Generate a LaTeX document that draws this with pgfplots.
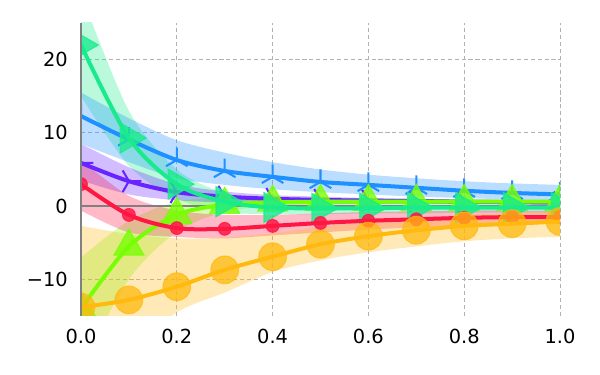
\documentclass[border=0pt]{standalone}
\usepackage{pgfplots}
\pgfplotsset{compat=1.18}
\usepgfplotslibrary{fillbetween}
\usetikzlibrary{plotmarks}
\usepackage{fontspec}
\setmainfont{DejaVu Sans}

\definecolor{cblue}{RGB}{30,144,255}
\definecolor{cpurple}{RGB}{104,36,255}
\definecolor{cred}{RGB}{255,23,68}
\definecolor{cteal}{RGB}{25,235,140}
\definecolor{cgreen}{RGB}{118,255,3}
\definecolor{camber}{RGB}{255,185,15}

% x, then for each series: mean, upper, lower
\pgfplotstableread{
x   blue bu   bl  purple pu  pl   red  ru   rl   teal tu  tl   green gu   gl   amber au   al
0.0 12.3 15.5 8.5 5.9  8.5  3.5  3.0  6.3  -0.6 22.0 29  15   -14.0 -7   -22  -13.8 -2.7 -25
0.1 9.1  12.0 6.0 3.4  5.3  1.6  -1.2 1.4  -3.6 9.3  13  5.5  -5.5  -2.0 -10  -12.8 -3.8 -20
0.2 6.3  9.0  3.8 1.9  3.0  0.8  -3.0 -0.6 -4.2 3.0  5.0 1.0  -1.2  0.6  -3.5 -11.0 -4.4 -14.5
0.3 4.8  7.3  2.9 1.3  2.0  0.5  -3.1 -1.2 -4.4 0.6  1.8 -0.8 0.2   1.1  -0.8 -8.7  -4.3 -11.8
0.4 4.0  6.0  2.3 1.0  1.5  0.4  -2.7 -1.2 -4.0 -0.2 0.7 -1.1 0.5   1.1  0.0  -6.9  -3.7 -9.0
0.5 3.3  5.0  1.9 0.85 1.3  0.3  -2.3 -1.0 -3.6 -0.3 0.5 -1.1 0.6   1.0  0.2  -5.2  -2.8 -7.4
0.6 2.9  4.3  1.6 0.75 1.1  0.3  -2.0 -0.8 -3.2 -0.3 0.5 -1.0 0.6   1.0  0.3  -4.1  -2.1 -6.3
0.7 2.5  3.8  1.3 0.7  1.0  0.3  -1.8 -0.7 -2.9 -0.2 0.5 -1.0 0.6   1.0  0.3  -3.3  -1.6 -5.5
0.8 2.1  3.4  1.1 0.6  0.9  0.3  -1.6 -0.6 -2.7 -0.2 0.5 -0.9 0.6   0.9  0.3  -2.7  -1.2 -4.8
0.9 1.8  3.1  0.9 0.55 0.85 0.25 -1.5 -0.6 -2.5 -0.2 0.5 -0.9 0.6   0.9  0.3  -2.4  -1.0 -4.4
1.0 1.6  2.9  0.8 0.5  0.8  0.2  -1.5 -0.6 -2.4 -0.2 0.5 -0.9 0.6   0.9  0.3  -2.1  -0.8 -4.2
}\data

\begin{document}
\begin{tikzpicture}
\begin{axis}[
  scale only axis, width=4.79in, height=2.93in,
  xmin=0, xmax=1, ymin=-15, ymax=25,
  xtick={0,0.2,0.4,0.6,0.8,1}, xticklabels={0.0,0.2,0.4,0.6,0.8,1.0},
  ytick={-10,0,10,20}, yticklabels={−10,0,10,20},
  major tick length=0pt,
  grid=major,
  major grid style={draw=gray!60, line width=0.6pt, dash pattern=on 3pt off 2pt},
  axis line style={draw=none},
  tick label style={font=\fontsize{14}{16}\selectfont},
  yticklabel style={xshift=-6pt},
  xticklabel style={yshift=-6pt},
  clip mode=individual, clip marker paths=true,
  extra description/.code={
    \draw[gray, line width=1.1pt] (rel axis cs:0,0) -- (rel axis cs:0,1);
  },
]
% bands
\addplot[name path=tu, draw=none, smooth] table[x=x,y=tu]{\data};
\addplot[name path=tl, draw=none, smooth] table[x=x,y=tl]{\data};
\addplot[fill=cteal, fill opacity=0.3, draw=none] fill between[of=tu and tl];
\addplot[name path=gu, draw=none, smooth] table[x=x,y=gu]{\data};
\addplot[name path=gl, draw=none, smooth] table[x=x,y=gl]{\data};
\addplot[fill=cgreen, fill opacity=0.3, draw=none] fill between[of=gu and gl];
\addplot[name path=bu, draw=none, smooth] table[x=x,y=bu]{\data};
\addplot[name path=bl, draw=none, smooth] table[x=x,y=bl]{\data};
\addplot[fill=cblue, fill opacity=0.3, draw=none] fill between[of=bu and bl];
\addplot[name path=pu, draw=none, smooth] table[x=x,y=pu]{\data};
\addplot[name path=pl, draw=none, smooth] table[x=x,y=pl]{\data};
\addplot[fill=cpurple, fill opacity=0.3, draw=none] fill between[of=pu and pl];
\addplot[name path=ru, draw=none, smooth] table[x=x,y=ru]{\data};
\addplot[name path=rl, draw=none, smooth] table[x=x,y=rl]{\data};
\addplot[fill=cred, fill opacity=0.3, draw=none] fill between[of=ru and rl];
\addplot[name path=au, draw=none, smooth] table[x=x,y=au]{\data};
\addplot[name path=al, draw=none, smooth] table[x=x,y=al]{\data};
\addplot[fill=camber, fill opacity=0.3, draw=none] fill between[of=au and al];
% zero line
\addplot[gray, line width=1.4pt] coordinates {(0,0) (1,0)};
% lines
\addplot[cpurple, line width=2.9pt, smooth, mark=Mercedes star, mark size=9pt,
  mark options={solid, rotate=-90, line width=1.5pt}] table[x=x,y=purple]{\data};
\addplot[cblue, line width=2.9pt, smooth, mark=Mercedes star, mark size=9pt,
  mark options={solid, line width=1.5pt}] table[x=x,y=blue]{\data};
\addplot[cgreen, line width=2.9pt, smooth, mark=triangle*, mark size=12.5pt,
  mark options={solid, fill=cgreen, draw=cgreen, line width=0.8pt, opacity=0.8}] table[x=x,y=green]{\data};
\addplot[cteal, line width=2.9pt, smooth, mark=triangle*, mark size=12.5pt,
  mark options={solid, rotate=-90, fill=cteal, draw=cteal, line width=0.8pt, opacity=0.8}] table[x=x,y=teal]{\data};
\addplot[cred, line width=2.9pt, smooth, mark=*, mark size=4.6pt,
  mark options={solid, fill=cred, draw=cred, line width=0.8pt, opacity=0.85}] table[x=x,y=red]{\data};
\addplot[camber, line width=2.9pt, smooth, mark=*, mark size=10pt,
  mark options={solid, fill=camber, draw=camber, line width=0.8pt, opacity=0.75}] table[x=x,y=amber]{\data};
\end{axis}
\pgfresetboundingbox
\path[use as bounding box] (-0.81in,-0.59in) rectangle (5.19in,3.16in);
\end{tikzpicture}
\end{document}
